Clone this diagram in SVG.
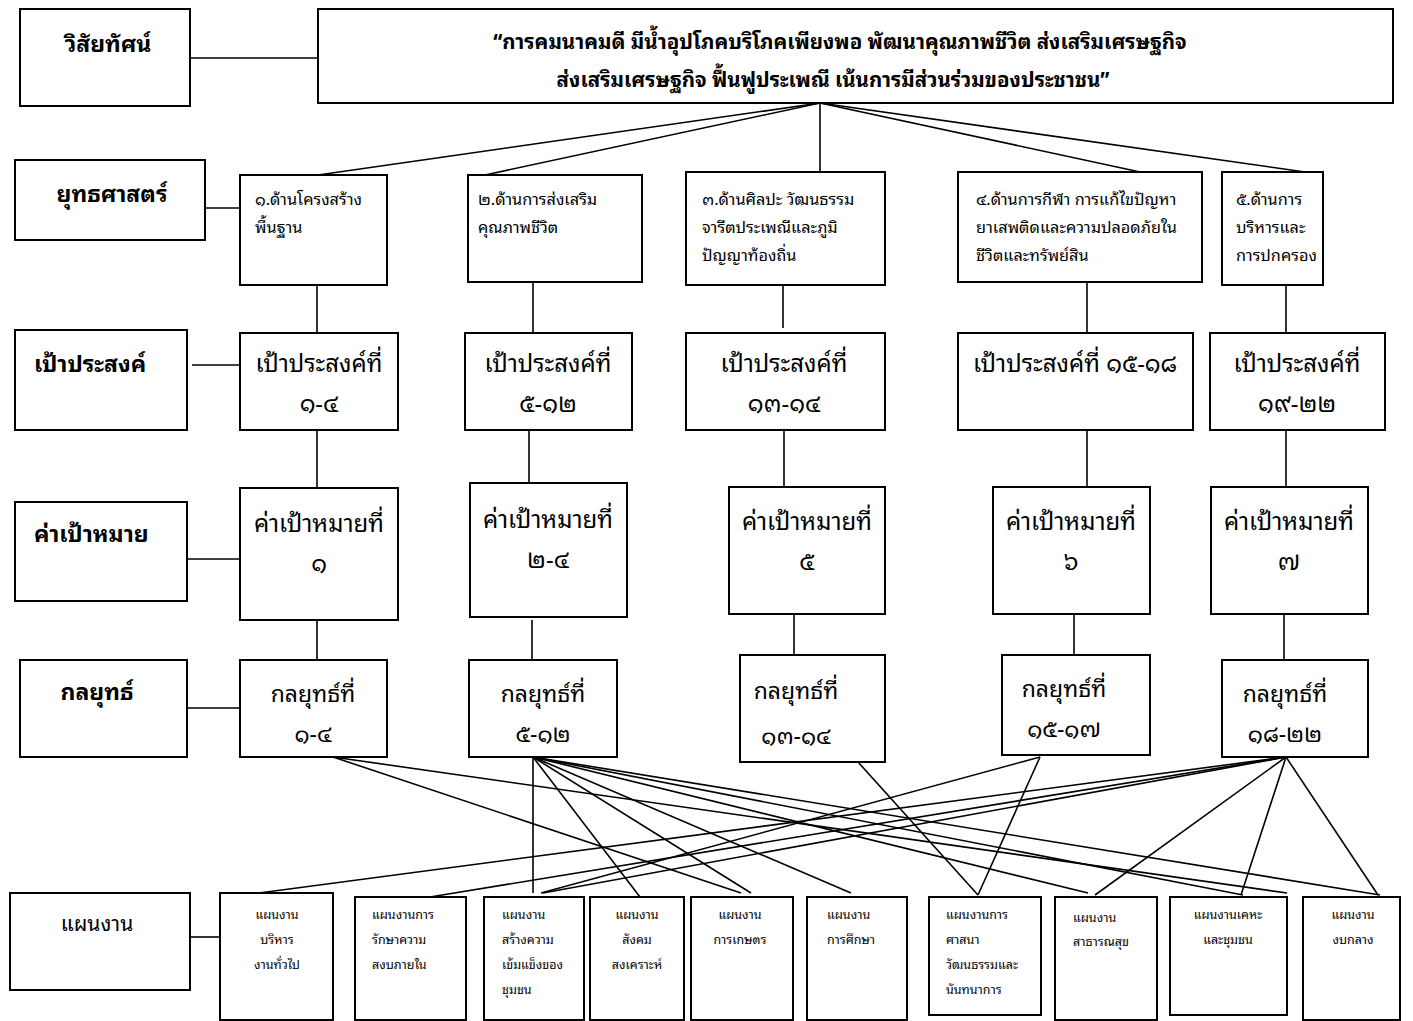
<svg xmlns="http://www.w3.org/2000/svg" width="1413" height="1021" viewBox="0 0 1413 1021">
<style>
text{font-family:"Noto Sans Thai Looped","Noto Serif Thai","TH Sarabun New","Loma","Garuda","Noto Sans Thai","Noto Sans","DejaVu Sans",sans-serif;fill:#000}
.box{fill:#fff;stroke:#000;stroke-width:2}
.lbl{font-size:23px;font-weight:bold}
.vis{font-size:20.5px;font-weight:bold;text-anchor:middle}
.st{font-size:16.3px}
.md{font-size:24px;text-anchor:middle}
.tc{font-size:23px;text-anchor:middle}
.pl{font-size:12.5px}
.c{text-anchor:middle}
#connectors line{stroke:#000;stroke-width:1.6}
</style>
<rect width="1413" height="1021" fill="#fff"/>
<g id="connectors">
<line x1="190" y1="58" x2="318" y2="58"/>
<line x1="820" y1="103" x2="318" y2="175"/>
<line x1="820" y1="103" x2="485" y2="175"/>
<line x1="820" y1="103" x2="820" y2="172"/>
<line x1="820" y1="103" x2="1154" y2="175"/>
<line x1="820" y1="103" x2="1305" y2="172"/>
<line x1="205" y1="208" x2="240" y2="208"/>
<line x1="192" y1="365" x2="240" y2="365"/>
<line x1="187" y1="559" x2="240" y2="559"/>
<line x1="187" y1="708" x2="240" y2="708"/>
<line x1="190" y1="937" x2="220" y2="937"/>
<line x1="317" y1="285" x2="317" y2="333"/>
<line x1="533" y1="282" x2="533" y2="333"/>
<line x1="783" y1="285" x2="783" y2="328"/>
<line x1="1087" y1="282" x2="1087" y2="333"/>
<line x1="1286" y1="285" x2="1286" y2="333"/>
<line x1="317" y1="430" x2="317" y2="488"/>
<line x1="529" y1="430" x2="529" y2="483"/>
<line x1="784" y1="430" x2="784" y2="487"/>
<line x1="1087" y1="430" x2="1087" y2="487"/>
<line x1="1286" y1="430" x2="1286" y2="487"/>
<line x1="317" y1="620" x2="317" y2="660"/>
<line x1="532" y1="620" x2="532" y2="660"/>
<line x1="794" y1="614" x2="794" y2="655"/>
<line x1="1074" y1="614" x2="1074" y2="655"/>
<line x1="1284" y1="614" x2="1284" y2="660"/>
<line x1="333" y1="757" x2="741" y2="893"/>
<line x1="333" y1="757" x2="1287" y2="893"/>
<line x1="533" y1="757" x2="533" y2="893"/>
<line x1="533" y1="757" x2="640" y2="897"/>
<line x1="533" y1="757" x2="751" y2="893"/>
<line x1="533" y1="757" x2="851" y2="893"/>
<line x1="533" y1="757" x2="1088" y2="893"/>
<line x1="533" y1="757" x2="1243" y2="895"/>
<line x1="533" y1="757" x2="1380" y2="895"/>
<line x1="858" y1="762" x2="978" y2="895"/>
<line x1="1040" y1="757" x2="978" y2="895"/>
<line x1="1040" y1="757" x2="541" y2="893"/>
<line x1="1286" y1="757" x2="259" y2="893"/>
<line x1="1286" y1="757" x2="430" y2="897"/>
<line x1="1286" y1="757" x2="543" y2="893"/>
<line x1="1286" y1="757" x2="1095" y2="895"/>
<line x1="1286" y1="757" x2="1241" y2="895"/>
<line x1="1286" y1="757" x2="1378" y2="895"/>
</g>
<g id="label-vision"><rect class="box" x="20" y="9" width="170" height="97"/><text class="lbl c" x="108" y="52">วิสัยทัศน์</text></g>
<g id="vision"><rect class="box" x="318" y="9" width="1075" height="94"/>
<text class="vis" x="840" y="49">“การคมนาคมดี มีน้ำอุปโภคบริโภคเพียงพอ พัฒนาคุณภาพชีวิต ส่งเสริมเศรษฐกิจ</text>
<text class="vis" x="833" y="87">ส่งเสริมเศรษฐกิจ ฟื้นฟูประเพณี เน้นการมีส่วนร่วมของประชาชน”</text></g>
<g id="label-strategy"><rect class="box" x="15" y="160" width="190" height="80"/><text class="lbl c" x="112" y="202">ยุทธศาสตร์</text></g>
<g id="strategy-1"><rect class="box" x="240" y="175" width="147" height="110"/><text class="st" x="255" y="205">๑.ด้านโครงสร้าง</text><text class="st" x="255" y="233">พื้นฐาน</text></g>
<g id="strategy-2"><rect class="box" x="468" y="175" width="174" height="107"/><text class="st" x="478" y="205">๒.ด้านการส่งเสริม</text><text class="st" x="478" y="233">คุณภาพชีวิต</text></g>
<g id="strategy-3"><rect class="box" x="686" y="172" width="199" height="113"/><text class="st" x="702" y="205">๓.ด้านศิลปะ วัฒนธรรม</text><text class="st" x="702" y="233">จารีตประเพณีและภูมิ</text><text class="st" x="702" y="261">ปัญญาท้องถิ่น</text></g>
<g id="strategy-4"><rect class="box" x="958" y="172" width="244" height="110"/><text class="st" x="976" y="205">๔.ด้านการกีฬา การแก้ไขปัญหา</text><text class="st" x="976" y="233">ยาเสพติดและความปลอดภัยใน</text><text class="st" x="976" y="261">ชีวิตและทรัพย์สิน</text></g>
<g id="strategy-5"><rect class="box" x="1222" y="172" width="101" height="113"/><text class="st" x="1236" y="205">๕.ด้านการ</text><text class="st" x="1236" y="233">บริหารและ</text><text class="st" x="1236" y="261">การปกครอง</text></g>
<g id="label-objective"><rect class="box" x="15" y="330" width="172" height="100"/><text class="lbl" x="34" y="372">เป้าประสงค์</text></g>
<g id="objective-1"><rect class="box" x="240" y="333" width="158" height="97"/><text class="md" x="319" y="372">เป้าประสงค์ที่</text><text class="md" x="319" y="412">๑-๔</text></g>
<g id="objective-2"><rect class="box" x="465" y="333" width="167" height="97"/><text class="md" x="548" y="372">เป้าประสงค์ที่</text><text class="md" x="548" y="412">๕-๑๒</text></g>
<g id="objective-3"><rect class="box" x="686" y="333" width="199" height="97"/><text class="md" x="784" y="372">เป้าประสงค์ที่</text><text class="md" x="784" y="412">๑๓-๑๔</text></g>
<g id="objective-4"><rect class="box" x="958" y="333" width="235" height="97"/><text class="md" x="1075" y="372">เป้าประสงค์ที่ ๑๕-๑๘</text></g>
<g id="objective-5"><rect class="box" x="1210" y="333" width="175" height="97"/><text class="md" x="1297" y="372">เป้าประสงค์ที่</text><text class="md" x="1297" y="412">๑๙-๒๒</text></g>
<g id="label-target"><rect class="box" x="15" y="502" width="172" height="99"/><text class="lbl" x="34" y="542">ค่าเป้าหมาย</text></g>
<g id="target-1"><rect class="box" x="240" y="488" width="158" height="132"/><text class="md" x="319" y="532">ค่าเป้าหมายที่</text><text class="md" x="319" y="572">๑</text></g>
<g id="target-2"><rect class="box" x="470" y="483" width="157" height="134"/><text class="md" x="548" y="528">ค่าเป้าหมายที่</text><text class="md" x="548" y="568">๒-๔</text></g>
<g id="target-3"><rect class="box" x="729" y="487" width="156" height="127"/><text class="md" x="807" y="530">ค่าเป้าหมายที่</text><text class="md" x="807" y="570">๕</text></g>
<g id="target-4"><rect class="box" x="993" y="487" width="157" height="127"/><text class="md" x="1071" y="530">ค่าเป้าหมายที่</text><text class="md" x="1071" y="570">๖</text></g>
<g id="target-5"><rect class="box" x="1211" y="487" width="157" height="127"/><text class="md" x="1289" y="530">ค่าเป้าหมายที่</text><text class="md" x="1289" y="570">๗</text></g>
<g id="label-tactic"><rect class="box" x="20" y="660" width="167" height="97"/><text class="lbl c" x="97" y="700">กลยุทธ์</text></g>
<g id="tactic-1"><rect class="box" x="240" y="660" width="147" height="97"/><text class="tc" x="313" y="702">กลยุทธ์ที่</text><text class="tc" x="313" y="742">๑-๔</text></g>
<g id="tactic-2"><rect class="box" x="469" y="660" width="148" height="97"/><text class="tc" x="543" y="702">กลยุทธ์ที่</text><text class="tc" x="543" y="742">๕-๑๒</text></g>
<g id="tactic-3"><rect class="box" x="740" y="655" width="145" height="107"/><text class="tc" x="796" y="699">กลยุทธ์ที่</text><text class="tc" x="796" y="744">๑๓-๑๔</text></g>
<g id="tactic-4"><rect class="box" x="1002" y="655" width="148" height="100"/><text class="tc" x="1064" y="697">กลยุทธ์ที่</text><text class="tc" x="1064" y="737">๑๕-๑๗</text></g>
<g id="tactic-5"><rect class="box" x="1222" y="660" width="146" height="97"/><text class="tc" x="1285" y="702">กลยุทธ์ที่</text><text class="tc" x="1285" y="742">๑๘-๒๒</text></g>
<g id="label-plan"><rect class="box" x="10" y="893" width="180" height="97"/><text class="c" style="font-size:21px" x="97" y="931">แผนงาน</text></g>
<g id="plan-1"><rect class="box" x="220" y="893" width="113" height="127"/><text class="pl c" x="277" y="919">แผนงาน</text><text class="pl c" x="277" y="944">บริหาร</text><text class="pl c" x="277" y="969">งานทั่วไป</text></g>
<g id="plan-2"><rect class="box" x="355" y="897" width="111" height="123"/><text class="pl" x="372" y="919">แผนงานการ</text><text class="pl" x="372" y="944">รักษาความ</text><text class="pl" x="372" y="969">สงบภายใน</text></g>
<g id="plan-3"><rect class="box" x="484" y="897" width="100" height="123"/><text class="pl" x="502" y="919">แผนงาน</text><text class="pl" x="502" y="944">สร้างความ</text><text class="pl" x="502" y="969">เข้มแข็งของ</text><text class="pl" x="502" y="994">ชุมชน</text></g>
<g id="plan-4"><rect class="box" x="590" y="897" width="94" height="123"/><text class="pl c" x="637" y="919">แผนงาน</text><text class="pl c" x="637" y="944">สังคม</text><text class="pl c" x="637" y="969">สงเคราะห์</text></g>
<g id="plan-5"><rect class="box" x="691" y="897" width="102" height="123"/><text class="pl c" x="740" y="919">แผนงาน</text><text class="pl c" x="740" y="944">การเกษตร</text></g>
<g id="plan-6"><rect class="box" x="807" y="897" width="100" height="123"/><text class="pl" x="827" y="919">แผนงาน</text><text class="pl" x="827" y="944">การศึกษา</text></g>
<g id="plan-7"><rect class="box" x="929" y="897" width="112" height="118"/><text class="pl" x="946" y="919">แผนงานการ</text><text class="pl" x="946" y="944">ศาสนา</text><text class="pl" x="946" y="969">วัฒนธรรมและ</text><text class="pl" x="946" y="994">นันทนาการ</text></g>
<g id="plan-8"><rect class="box" x="1055" y="897" width="102" height="123"/><text class="pl" x="1073" y="922">แผนงาน</text><text class="pl" x="1073" y="946">สาธารณสุข</text></g>
<g id="plan-9"><rect class="box" x="1170" y="897" width="117" height="118"/><text class="pl c" x="1228" y="919">แผนงานเคหะ</text><text class="pl c" x="1228" y="944">และชุมชน</text></g>
<g id="plan-10"><rect class="box" x="1303" y="897" width="97" height="123"/><text class="pl c" x="1353" y="919">แผนงาน</text><text class="pl c" x="1353" y="944">งบกลาง</text></g>
</svg>
